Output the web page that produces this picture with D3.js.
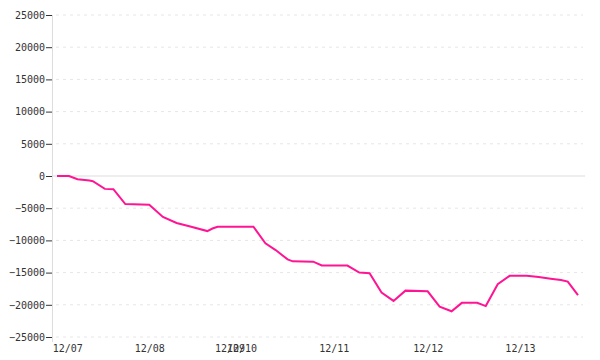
<!DOCTYPE html>
<html>
<head>
<meta charset="utf-8">
<script src="https://cdn.jsdelivr.net/npm/d3@7"></script>
<style>
  body { margin: 0; background: #fff; }
  text { font-family: "DejaVu Sans Mono", monospace; font-size: 10px; fill: #333; }
</style>
</head>
<body>
<div id="chart"></div>
<script>
// Position of each sample along the x axis (hours from first sample)
const slots = [0, 3.5, 6, 9.5, 10.5, 14, 16.5, 20, 27, 31, 35, 39, 44, 45.5, 47, 57.5, 61, 64, 67.5, 69, 75, 77.5, 85, 88.5, 91.5, 95, 98.5, 102, 108.5, 112, 115.5, 118.5, 123, 125.5, 129, 132.5, 137.5, 141, 144.5, 147.5, 149.5, 152.5];
// Values for each sample
const values = [0, 0, -500, -700, -800, -2000, -2050, -4350, -4450, -6350, -7300, -7850, -8550, -8150, -7870, -7870, -10450, -11500, -12950, -13250, -13300, -13900, -13900, -15000, -15100, -18100, -19400, -17800, -17900, -20300, -21000, -19700, -19700, -20200, -16800, -15500, -15500, -15700, -15950, -16150, -16400, -18500];
// Day labels and their positions
const dayLabels = ["12/07", "12/08", "12/09", "12/10", "12/11", "12/12", "12/13"];
const daySlots = [3, 27, 50.5, 54, 81, 108.5, 135.5];
const yTicks = [-25000, -20000, -15000, -10000, -5000, 0, 5000, 10000, 15000, 20000, 25000];

const data = slots.map((s, i) => ({slot: s, value: values[i]}));

const width = 600, height = 360;
const margin = {top: 15, right: 15, bottom: 23, left: 52};

const svg = d3.select("#chart")
    .append("svg")
    .attr("width", width)
    .attr("height", height);

const xScale = d3.scaleLinear()
    .domain([0, d3.max(slots)])
    .range([margin.left + 5, width - 22]);

const yScale = d3.scaleLinear()
    .domain([-25000, 25000])
    .range([height - margin.bottom, margin.top]);

// Gridlines
svg.append("g")
    .selectAll("line")
    .data(yTicks.filter(d => d !== 0))
    .join("line")
    .attr("x1", margin.left + 4)
    .attr("x2", width - margin.right - 2)
    .attr("y1", d => yScale(d))
    .attr("y2", d => yScale(d))
    .attr("stroke", "#e6e6e6")
    .attr("stroke-dasharray", "3,4");

// Zero line
svg.append("line")
    .attr("x1", margin.left)
    .attr("x2", width - margin.right)
    .attr("y1", yScale(0))
    .attr("y2", yScale(0))
    .attr("stroke", "#dddddd");

// Y axis line
svg.append("line")
    .attr("x1", margin.left + 0.5)
    .attr("x2", margin.left + 0.5)
    .attr("y1", margin.top)
    .attr("y2", height - margin.bottom + 5)
    .attr("stroke", "#dddddd");

// Y axis
const yAxis = d3.axisLeft(yScale)
    .tickValues(yTicks)
    .tickFormat(d3.format("d"))
    .tickSize(6)
    .tickPadding(1);

svg.append("g")
    .attr("transform", `translate(${margin.left},0)`)
    .call(yAxis)
    .call(g => g.select(".domain").remove())
    .call(g => g.selectAll(".tick line").attr("stroke", "#333"))
    .call(g => g.selectAll(".tick text").attr("font-family", null).attr("font-size", null).attr("fill", null));

// X axis (labels only)
const xAxis = d3.axisBottom(xScale)
    .tickValues(daySlots)
    .tickFormat((d, i) => dayLabels[i])
    .tickSize(0)
    .tickPadding(8);

svg.append("g")
    .attr("transform", `translate(0,${height - margin.bottom})`)
    .call(xAxis)
    .call(g => g.select(".domain").remove())
    .call(g => g.selectAll(".tick text").attr("font-family", null).attr("font-size", null).attr("fill", null));

// Line
const line = d3.line()
    .x(d => xScale(d.slot))
    .y(d => yScale(d.value));

svg.append("path")
    .datum(data)
    .attr("fill", "none")
    .attr("stroke", "#ff1493")
    .attr("stroke-width", 2)
    .attr("d", line);
</script>
</body>
</html>
